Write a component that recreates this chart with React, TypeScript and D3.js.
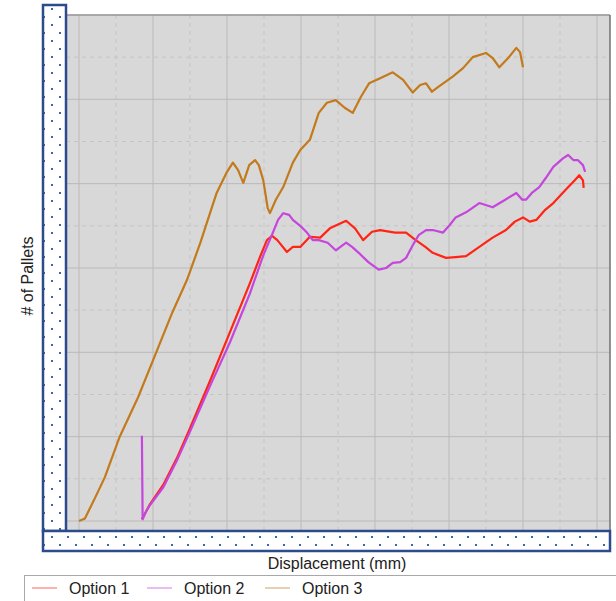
import { useEffect, useRef } from "react";
import * as d3 from "d3";

// [displacement, pallets]
const option1: [number, number][] = [
  [8.5, 0.2], [9.6, 2.0], [11.4, 4.3], [13.2, 7.4], [14.9, 10.8], [17.7, 16.6],
  [20.4, 22.4], [23.1, 28.2], [24.5, 31.4], [25.4, 33.3], [26.1, 33.8], [26.8, 33.3],
  [28.1, 31.9], [28.9, 32.5], [29.9, 32.5], [31.2, 33.7], [32.6, 33.6], [33.9, 34.7],
  [36.1, 35.6], [37.3, 34.7], [38.4, 33.3], [39.6, 34.3], [40.7, 34.5], [42.7, 34.2],
  [44.2, 34.2], [45.5, 33.3], [46.8, 32.5], [47.8, 31.8], [49.6, 31.2], [50.9, 31.3],
  [52.3, 31.4], [54.1, 32.5], [55.9, 33.6], [57.7, 34.5], [58.9, 35.5], [60.0, 36.0],
  [60.9, 35.5], [61.8, 35.7], [63.0, 36.9], [64.1, 37.7], [65.8, 39.3], [67.0, 40.4],
  [67.6, 41.0], [68.1, 40.4], [68.2, 39.5],
];

const option2: [number, number][] = [
  [8.5, 10.1], [8.6, 0.2], [9.1, 1.2], [9.6, 1.9], [11.4, 4.0], [13.2, 7.1],
  [15.0, 10.6], [17.7, 16.0], [20.4, 21.2], [23.1, 27.0], [24.9, 31.5], [26.2, 34.2],
  [26.9, 35.7], [27.6, 36.5], [28.4, 36.3], [28.9, 35.7], [29.9, 35.0], [30.8, 34.2],
  [31.6, 33.3], [32.4, 33.3], [33.6, 33.0], [34.7, 32.1], [36.1, 33.0], [36.9, 32.5],
  [37.8, 31.8], [39.1, 30.7], [40.5, 29.8], [41.5, 30.0], [42.4, 30.6], [43.4, 30.7],
  [44.2, 31.2], [45.1, 32.7], [45.9, 33.9], [46.9, 34.5], [47.8, 34.5], [49.2, 34.2],
  [50.1, 35.1], [50.9, 36.0], [52.3, 36.6], [54.1, 37.7], [55.9, 37.2], [57.6, 38.1],
  [59.1, 38.9], [59.9, 38.1], [60.4, 38.1], [61.2, 38.9], [62.2, 39.6], [63.1, 40.7],
  [64.1, 42.0], [65.4, 43.0], [66.1, 43.4], [66.8, 42.8], [67.4, 42.8], [68.1, 42.2],
  [68.4, 41.4],
];

const option3: [number, number][] = [
  [0, 0], [0.8, 0.3], [2.2, 2.8], [3.5, 5.2], [5.5, 10.0], [8.0, 14.7], [10.3, 19.7],
  [12.6, 24.7], [14.6, 28.6], [16.4, 33.0], [18.6, 38.9], [20.0, 41.4], [20.8, 42.5],
  [21.5, 41.6], [22.2, 40.1], [23.0, 42.2], [23.8, 42.8], [24.3, 42.2], [24.9, 40.4],
  [25.5, 37.1], [25.8, 36.5], [26.6, 38.1], [27.6, 39.6], [28.9, 42.5], [29.9, 44.0],
  [31.2, 45.2], [32.4, 48.4], [33.5, 49.6], [34.7, 49.9], [35.9, 49.0], [37.0, 48.4],
  [38.1, 50.3], [39.2, 51.9], [40.7, 52.5], [42.4, 53.2], [43.8, 52.3], [45.1, 50.8],
  [46.1, 51.7], [46.9, 51.9], [47.7, 50.9], [48.6, 51.5], [50.5, 52.7], [51.9, 53.7],
  [53.2, 55.0], [55.0, 55.5], [55.9, 54.9], [56.8, 53.8], [58.0, 54.9], [59.1, 56.1],
  [59.6, 55.6], [60.0, 53.8],
];

const seriesNames = ["Option 1", "Option 2", "Option 3"];
const seriesColors = ["#ff2414", "#c446dc", "#c27a1c"];
const xMajor = [0, 10, 20, 30, 40, 50, 60, 70];
const xMinor = [5, 15, 25, 35, 45, 55, 65];
const yMajor = [0, 10, 20, 30, 40, 50, 60];
const yMinor = [5, 15, 25, 35, 45, 55];

export default function App() {
  const svgRef = useRef<SVGSVGElement>(null);

  useEffect(() => {
    if (!svgRef.current) return;
    const svg = d3.select(svgRef.current);
    svg.selectAll("*").remove();

    const width = 616;
    const height = 601;
    const plot = { left: 66, right: 610, top: 15, bottom: 530 };

    const x = d3.scaleLinear().domain([0, 70]).range([79, 597]);
    const y = d3.scaleLinear().domain([0, 60]).range([521, 15]);

    svg.attr("width", width).attr("height", height);

    // dotted fill used by the blue boxes
    const pat = svg
      .append("defs")
      .append("pattern")
      .attr("id", "dots")
      .attr("patternUnits", "userSpaceOnUse")
      .attr("x", 51)
      .attr("y", 536)
      .attr("width", 16)
      .attr("height", 16);
    pat.append("rect").attr("width", 16).attr("height", 16).attr("fill", "#fff");
    pat.append("rect").attr("x", 0).attr("y", 0).attr("width", 2).attr("height", 2).attr("fill", "#3d63b8");
    pat.append("rect").attr("x", 8).attr("y", 8).attr("width", 2).attr("height", 2).attr("fill", "#3d63b8");

    svg.append("rect").attr("width", width).attr("height", height).attr("fill", "#fff");

    // plot background
    svg
      .append("rect")
      .attr("x", plot.left)
      .attr("y", plot.top)
      .attr("width", plot.right - plot.left)
      .attr("height", plot.bottom - plot.top)
      .attr("fill", "#d8d8d8");

    const grid = svg.append("g");
    grid
      .selectAll(".vminor")
      .data(xMinor)
      .join("line")
      .attr("x1", (d) => x(d))
      .attr("x2", (d) => x(d))
      .attr("y1", plot.top)
      .attr("y2", plot.bottom)
      .attr("stroke", "#c4c4c4")
      .attr("stroke-dasharray", "4,4");
    grid
      .selectAll(".hminor")
      .data(yMinor)
      .join("line")
      .attr("x1", plot.left)
      .attr("x2", plot.right)
      .attr("y1", (d) => y(d))
      .attr("y2", (d) => y(d))
      .attr("stroke", "#c4c4c4")
      .attr("stroke-dasharray", "4,4");
    grid
      .selectAll(".vmajor")
      .data(xMajor)
      .join("line")
      .attr("x1", (d) => x(d))
      .attr("x2", (d) => x(d))
      .attr("y1", plot.top)
      .attr("y2", plot.bottom)
      .attr("stroke", "#bababa");
    grid
      .selectAll(".hmajor")
      .data(yMajor)
      .join("line")
      .attr("x1", plot.left)
      .attr("x2", plot.right)
      .attr("y1", (d) => y(d))
      .attr("y2", (d) => y(d))
      .attr("stroke", "#bababa");

    // plot frame
    svg
      .append("line")
      .attr("x1", plot.left)
      .attr("x2", plot.right)
      .attr("y1", plot.top)
      .attr("y2", plot.top)
      .attr("stroke", "#9a9a9a")
      .attr("stroke-width", 1.5);
    svg
      .append("line")
      .attr("x1", plot.right)
      .attr("x2", plot.right)
      .attr("y1", plot.top)
      .attr("y2", plot.bottom)
      .attr("stroke", "#707070")
      .attr("stroke-width", 1.5);

    // series
    const line = d3
      .line<[number, number]>()
      .x((d) => x(d[0]))
      .y((d) => y(d[1]));
    const allSeries = [option1, option2, option3];
    svg
      .append("g")
      .selectAll("path")
      .data(allSeries)
      .join("path")
      .attr("d", (d) => line(d))
      .attr("fill", "none")
      .attr("stroke", (_, i) => seriesColors[i])
      .attr("stroke-width", 2.2)
      .attr("stroke-linejoin", "round");

    // blue masking boxes over the axes
    svg
      .append("rect")
      .attr("x", 43)
      .attr("y", 5)
      .attr("width", 23)
      .attr("height", 526)
      .attr("fill", "url(#dots)")
      .attr("stroke", "#2c4b8c")
      .attr("stroke-width", 2.5);
    svg
      .append("rect")
      .attr("x", 43)
      .attr("y", 531)
      .attr("width", 567)
      .attr("height", 20)
      .attr("fill", "url(#dots)")
      .attr("stroke", "#2c4b8c")
      .attr("stroke-width", 2.5);

    // axis titles
    svg
      .append("text")
      .attr("x", 337)
      .attr("y", 569)
      .attr("text-anchor", "middle")
      .attr("font-family", "Liberation Sans, Arial, sans-serif")
      .attr("font-size", 16)
      .attr("fill", "#222")
      .text("Displacement (mm)");
    svg
      .append("text")
      .attr("transform", "translate(33, 276) rotate(-90)")
      .attr("text-anchor", "middle")
      .attr("font-family", "Liberation Sans, Arial, sans-serif")
      .attr("font-size", 16)
      .attr("fill", "#222")
      .text("# of Pallets");

    // legend
    const legend = svg.append("g");
    legend
      .append("rect")
      .attr("x", 24.5)
      .attr("y", 575.5)
      .attr("width", 600)
      .attr("height", 40)
      .attr("fill", "#fff")
      .attr("stroke", "#a8a8a8");
    const legendX = [32, 147, 265];
    seriesNames.forEach((name, i) => {
      legend
        .append("line")
        .attr("x1", legendX[i])
        .attr("x2", legendX[i] + 25)
        .attr("y1", 588)
        .attr("y2", 588)
        .attr("stroke", seriesColors[i])
        .attr("stroke-opacity", 0.6)
        .attr("stroke-width", 1.2);
      legend
        .append("text")
        .attr("x", legendX[i] + 37)
        .attr("y", 594)
        .attr("font-family", "Liberation Sans, Arial, sans-serif")
        .attr("font-size", 16)
        .attr("fill", "#222")
        .text(name);
    });
  }, []);

  return (
    <div style={{ position: "absolute", left: 0, top: 0 }}>
      <svg ref={svgRef} style={{ display: "block" }}></svg>
    </div>
  );
}
